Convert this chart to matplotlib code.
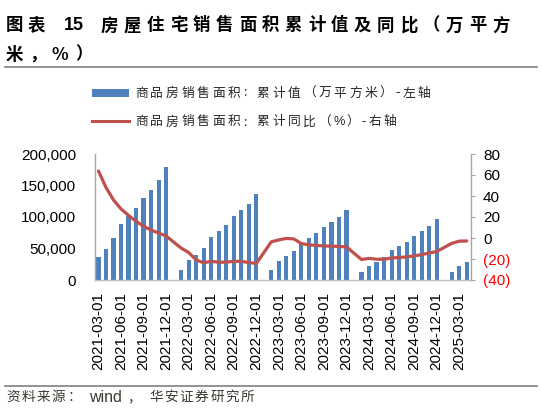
import matplotlib
matplotlib.use("Agg")
import matplotlib.pyplot as plt
import pandas as pd
from matplotlib.lines import Line2D
from matplotlib.patches import Rectangle
from matplotlib.ticker import FuncFormatter

W, H = 541, 412
CJK = ["Noto Sans CJK SC", "DejaVu Sans"]
LAT = ["Liberation Sans", "DejaVu Sans"]

# months 2021-03 .. 2025-04, January is folded into Jan-Feb (no value)
months = pd.date_range("2021-03-01", "2025-04-01", freq="MS")

# cumulative sales area, 10k sqm
area = [36007, 48950, 66263, 88635, 101130, 114193, 130332, 143041, 158012, 179433,
        None, 15703, 31046, 39768, 50738, 68923, 78178, 87890, 101422, 111179, 121250, 135837,
        None, 15133, 29946, 37636, 46440, 59515, 66563, 73949, 84806, 92579, 100509, 111735,
        None, 12002, 22668, 29252, 36642, 47916, 54140, 60492, 70284, 77930, 86080, 97385,
        None, 12573, 21869, 28262]

# cumulative yoy, %
yoy = [63.8, 48.1, 36.3, 27.7, 21.5, 15.9, 11.3, 7.5, 4.8, 1.9,
       None, -9.6, -13.8, -20.9, -23.6, -22.2, -23.1, -23.0, -22.2, -22.3, -23.3, -24.3,
       None, -3.6, -1.8, -0.4, -0.9, -5.3, -6.5, -7.1, -7.5, -7.8, -8.0, -8.5,
       None, -20.5, -19.4, -20.2, -20.3, -19.0, -18.6, -18.0, -17.1, -15.8, -14.3, -12.9,
       None, -5.1, -3.0, -2.8]

left_ticks = [0, 50000, 100000, 150000, 200000]
right_ticks = [-40, -20, 0, 20, 40, 60, 80]

title_1a = "图表"
title_1b = "房屋住宅销售面积累计值及同比（万平方"
title_2 = ["米", "，", "%", "）"]
leg_bar = "商品房销售面积: 累计值（万平方米）-左轴"
leg_line = "商品房销售面积: 累计同比（%）-右轴"

BLUE = "#4F81BD"
RED = "#C0504D"
GREY = "#A6A6A6"

fig = plt.figure(figsize=(W / 100, H / 100), dpi=100)


def fx(px):
    return px / W


def fy(py):
    return 1 - py / H


def put_chars(chars, x0, y, pitch, **kw):
    for i, ch in enumerate(chars):
        fig.text(fx(x0 + i * pitch), fy(y), ch, ha="left", va="center", **kw)


def spaced(s, x0, y, pitch, **kw):
    # hand spacing: cjk chars one slot, ascii narrower
    x = x0
    for ch in s:
        if ch == "%":
            fig.text(fx(x), fy(y), ch, ha="left", va="center",
                     **{**kw, "family": LAT})
            x += pitch * 0.8
            continue
        if ch != " ":
            fig.text(fx(x), fy(y), ch, ha="left", va="center", **kw)
        x += pitch * (0.45 if ord(ch) < 128 else 1.0)


# title
tkw = dict(family=CJK, fontsize=12.5, fontweight="bold", color="black")
put_chars(title_1a, 6, 25.5, 21.5, **tkw)
fig.text(fx(64), fy(25.5), "15", ha="left", va="center", family=LAT,
         fontsize=13, fontweight="bold")
put_chars(title_1b, 101, 25.5, 23, **tkw)
put_chars(title_2, 6, 54.5, 23, **tkw)
fig.add_artist(Line2D([fx(5), fx(537)], [fy(67), fy(67)], color="#808080", lw=1.2))

# legend (drawn by hand)
fig.add_artist(Rectangle((fx(92), fy(97)), fx(129) - fx(92), fy(89) - fy(97),
                         facecolor=BLUE, edgecolor="none"))
fig.add_artist(Line2D([fx(92), fx(129)], [fy(121.5), fy(121.5)], color=RED, lw=2.2))
lkw = dict(family=CJK, fontsize=9.2, color="#262626")
spaced(leg_bar, 135, 93, 15.4, **lkw)
spaced(leg_line, 135, 122, 15.4, **lkw)

# chart
ax = fig.add_axes([fx(94.7), fy(280), fx(470.5) - fx(94.7), fy(154) - fy(280)])
x = list(range(len(months)))
bx = [i for i in x if area[i] is not None]
ax.bar(bx, [area[i] for i in bx], width=0.55, color=BLUE, zorder=2)
ax.set_xlim(-0.5, len(months) - 0.5)
ax.set_ylim(0, 200000)
ax.set_yticks(left_ticks)
ax.yaxis.set_major_formatter(FuncFormatter(lambda v, p: f"{v:,.0f}"))
tick_pos = x[::3]
ax.set_xticks(tick_pos)
ax.set_xticklabels([months[i].strftime("%Y-%m-%d") for i in tick_pos])
ax.tick_params(axis="x", length=0, pad=8.5, labelrotation=90, labelsize=11)
ax.tick_params(axis="y", length=0, pad=13.5, labelsize=11)
for lbl in ax.get_xticklabels() + ax.get_yticklabels():
    lbl.set_family(LAT)
for s in ["top", "right"]:
    ax.spines[s].set_visible(False)
ax.spines["left"].set_color(GREY)
ax.spines["bottom"].set_color("#BFBFBF")
ax.spines["left"].set_linewidth(1.0)
ax.spines["bottom"].set_linewidth(1.0)
ax.patch.set_alpha(0)

ax2 = ax.twinx()
lx = [i for i in x if yoy[i] is not None]
ax2.plot(lx, [yoy[i] for i in lx], color=RED, lw=2.3, solid_joinstyle="round",
         solid_capstyle="round", zorder=3)
ax2.set_ylim(-40, 80)
ax2.set_yticks(right_ticks)
ax2.set_yticklabels([f"({abs(v)})" if v < 0 else f"{v}" for v in right_ticks])
ax2.tick_params(axis="y", length=2.7, width=0.8, color=GREY, pad=6.3, labelsize=11)
for lbl, v in zip(ax2.get_yticklabels(), right_ticks):
    lbl.set_family(LAT)
    if v < 0:
        lbl.set_color("#FF0000")
for s in ["top", "left", "bottom"]:
    ax2.spines[s].set_visible(False)
ax2.spines["right"].set_color(GREY)
ax2.spines["right"].set_linewidth(1.0)

# source
fig.add_artist(Line2D([fx(5), fx(537)], [fy(385.5), fy(385.5)], color="#808080", lw=1.2))
skw = dict(family=CJK, fontsize=9.8, color="#3A3A30")
put_chars("资料来源：", 6, 397, 15.3, **skw)
fig.text(fx(89), fy(397), "wind", ha="left", va="center", family=LAT, fontsize=11.5,
         color="#3A3A30")
put_chars("，", 127, 397, 15.3, **skw)
put_chars("华安证券研究所", 149, 397, 15.3, **skw)

fig.savefig("out.png", dpi=100)
